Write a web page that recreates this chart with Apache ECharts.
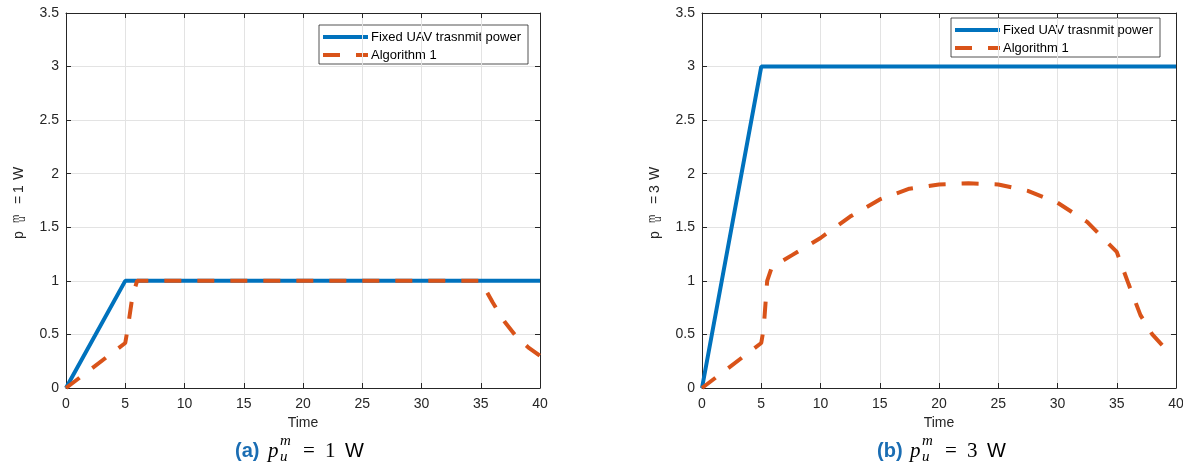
<!DOCTYPE html>
<html>
<head>
<meta charset="utf-8">
<title>UAV transmit power</title>
<script src="https://cdn.jsdelivr.net/npm/echarts@6.0.0/dist/echarts.min.js"></script>
<style>
  html, body { margin: 0; padding: 0; background: #ffffff; }
  #chart { width: 1183px; height: 466px; }
</style>
</head>
<body>
<div id="chart"></div>
<script>
// (a) p = 1 W
const fixedTimeA = [0, 5, 40]
const fixedPowerA = [0, 1, 1]
const algoTimeA = [0, 5, 5.2, 5.6, 6, 10, 15, 20, 25, 30, 35, 36, 37, 38, 39, 40]
const algoPowerA = [0, 0.42, 0.55, 0.85, 1, 1, 1, 1, 1, 1, 1, 0.8, 0.62, 0.48, 0.38, 0.3]

// (b) p = 3 W
const fixedTimeB = [0, 5, 40]
const fixedPowerB = [0, 3, 3]
const algoTimeB = [0, 5, 5.2, 5.5, 5.9, 7.6, 10, 12.5, 15, 17.5, 20, 22.5, 25, 27.5, 30, 32.5, 35, 36, 37, 38, 39, 40]
const algoPowerB = [0, 0.42, 0.55, 1.0, 1.13, 1.24, 1.4, 1.6, 1.76, 1.86, 1.9, 1.91, 1.9, 1.84, 1.73, 1.55, 1.27, 0.97, 0.68, 0.5, 0.38, 0.33]

const seriesNames = ['Fixed UAV trasnmit power', 'Algorithm 1']
const captionPower = ['1', '3']

const sans = "'Liberation Sans', Arial, Helvetica, sans-serif"
const serif = "'Liberation Serif', 'Times New Roman', serif"
const axisColor = '#262626'
const gridColor = '#e3e3e3'
const blue = '#0072BD'
const orange = '#D95319'
const dash = [17, 16]

function pairs(xs, ys) {
  return xs.map((x, i) => [x, ys[i]])
}

function xAxisFor(gridIndex, position) {
  const bottom = position === 'bottom'
  return {
    type: 'value',
    gridIndex: gridIndex,
    position: position,
    min: 0,
    max: 40,
    interval: 5,
    name: bottom ? 'Time' : '',
    nameLocation: 'middle',
    nameGap: 28,
    nameTextStyle: { fontFamily: sans, fontSize: 14, color: axisColor },
    axisLine: { show: true, onZero: false, lineStyle: { color: axisColor, width: 1 } },
    axisTick: { show: true, inside: true, length: 5, lineStyle: { color: axisColor } },
    axisLabel: { show: bottom, fontFamily: sans, fontSize: 14, color: axisColor, margin: 9 },
    splitLine: { show: bottom, lineStyle: { color: gridColor, width: 1 } }
  }
}

function yAxisFor(gridIndex, position) {
  const left = position === 'left'
  return {
    type: 'value',
    gridIndex: gridIndex,
    position: position,
    min: 0,
    max: 3.5,
    interval: 0.5,
    axisLine: { show: true, onZero: false, lineStyle: { color: axisColor, width: 1 } },
    axisTick: { show: true, inside: true, length: 5, lineStyle: { color: axisColor } },
    axisLabel: { show: left, fontFamily: sans, fontSize: 14, color: axisColor, margin: 7 },
    splitLine: { show: left, lineStyle: { color: gridColor, width: 1 } }
  }
}

function lineSeries(name, xi, yi, data, color, dashed) {
  return {
    name: name,
    type: 'line',
    xAxisIndex: xi,
    yAxisIndex: yi,
    showSymbol: false,
    symbol: 'none',
    smooth: false,
    lineStyle: { color: color, width: 4, type: dashed ? dash : 'solid', cap: 'butt' },
    itemStyle: { color: color },
    data: data
  }
}

// rotated y label: p^m_u = N W
function yName(x, y, n) {
  const t = (tx, ty, text, size) => ({
    type: 'text', x: tx, y: ty,
    style: { text: text, font: size + 'px ' + sans, fill: axisColor, verticalAlign: 'middle' }
  })
  return {
    type: 'group',
    x: x,
    y: y,
    rotation: Math.PI / 2,
    children: [
      t(0, 0, 'p', 14),
      t(16, -3, 'm', 10),
      t(17, 3.5, 'u', 10),
      t(35, 0, '=', 14),
      t(46, 0, n, 14),
      t(59, 0, 'W', 14)
    ]
  }
}

// caption under each panel: (a) p^m_u = N W
function caption(x0, tag, n) {
  const mid = 451
  return {
    type: 'group',
    children: [
      { type: 'text', x: x0, y: mid, style: { text: tag, font: 'bold 20px ' + sans, fill: '#1a6db3', verticalAlign: 'middle' } },
      { type: 'text', x: x0 + 33, y: mid, style: { text: 'p', font: 'italic 21px ' + serif, fill: '#000', verticalAlign: 'middle' } },
      { type: 'text', x: x0 + 45, y: mid - 10, style: { text: 'm', font: 'italic 15px ' + serif, fill: '#000', verticalAlign: 'middle' } },
      { type: 'text', x: x0 + 45, y: mid + 6, style: { text: 'u', font: 'italic 15px ' + serif, fill: '#000', verticalAlign: 'middle' } },
      { type: 'text', x: x0 + 68, y: mid, style: { text: '=', font: '21px ' + serif, fill: '#000', verticalAlign: 'middle' } },
      { type: 'text', x: x0 + 90, y: mid, style: { text: n, font: '21px ' + serif, fill: '#000', verticalAlign: 'middle' } },
      { type: 'text', x: x0 + 110, y: mid, style: { text: 'W', font: '20px ' + sans, fill: '#000', verticalAlign: 'middle' } }
    ]
  }
}

// boxed legend inside each panel
function legendBox(left, top) {
  const row1 = top + 12
  const row2 = top + 30
  return {
    type: 'group',
    children: [
      { type: 'rect', shape: { x: left, y: top, width: 209, height: 39 },
        style: { fill: '#ffffff', stroke: axisColor, lineWidth: 0.8 } },
      { type: 'line', shape: { x1: left + 4, y1: row1, x2: left + 49, y2: row1 },
        style: { stroke: blue, lineWidth: 4 } },
      { type: 'line', shape: { x1: left + 4, y1: row2, x2: left + 49, y2: row2 },
        style: { stroke: orange, lineWidth: 4, lineDash: dash } },
      { type: 'text', x: left + 52, y: row1,
        style: { text: seriesNames[0], font: '13px ' + sans, fill: '#000', verticalAlign: 'middle' } },
      { type: 'text', x: left + 52, y: row2,
        style: { text: seriesNames[1], font: '13px ' + sans, fill: '#000', verticalAlign: 'middle' } }
    ]
  }
}

const chart = echarts.init(document.getElementById('chart'), null, { renderer: 'canvas' })
chart.setOption({
  animation: false,
  backgroundColor: '#ffffff',
  grid: [
    { left: 66, top: 13, width: 474, height: 375, outerBoundsMode: 'none', containLabel: false },
    { left: 702, top: 13, width: 474, height: 375, outerBoundsMode: 'none', containLabel: false }
  ],
  xAxis: [
    xAxisFor(0, 'bottom'),
    xAxisFor(1, 'bottom'),
    xAxisFor(0, 'top'),
    xAxisFor(1, 'top')
  ],
  yAxis: [
    yAxisFor(0, 'left'),
    yAxisFor(1, 'left'),
    yAxisFor(0, 'right'),
    yAxisFor(1, 'right')
  ],
  series: [
    lineSeries(seriesNames[0], 0, 0, pairs(fixedTimeA, fixedPowerA), blue, false),
    lineSeries(seriesNames[1], 0, 0, pairs(algoTimeA, algoPowerA), orange, true),
    lineSeries(seriesNames[0], 1, 1, pairs(fixedTimeB, fixedPowerB), blue, false),
    lineSeries(seriesNames[1], 1, 1, pairs(algoTimeB, algoPowerB), orange, true)
  ],
  graphic: [
    legendBox(319, 25),
    legendBox(951, 18),
    yName(19, 239, captionPower[0]),
    yName(655, 239, captionPower[1]),
    caption(235, '(a)', captionPower[0]),
    caption(877, '(b)', captionPower[1])
  ]
})
</script>
</body>
</html>
